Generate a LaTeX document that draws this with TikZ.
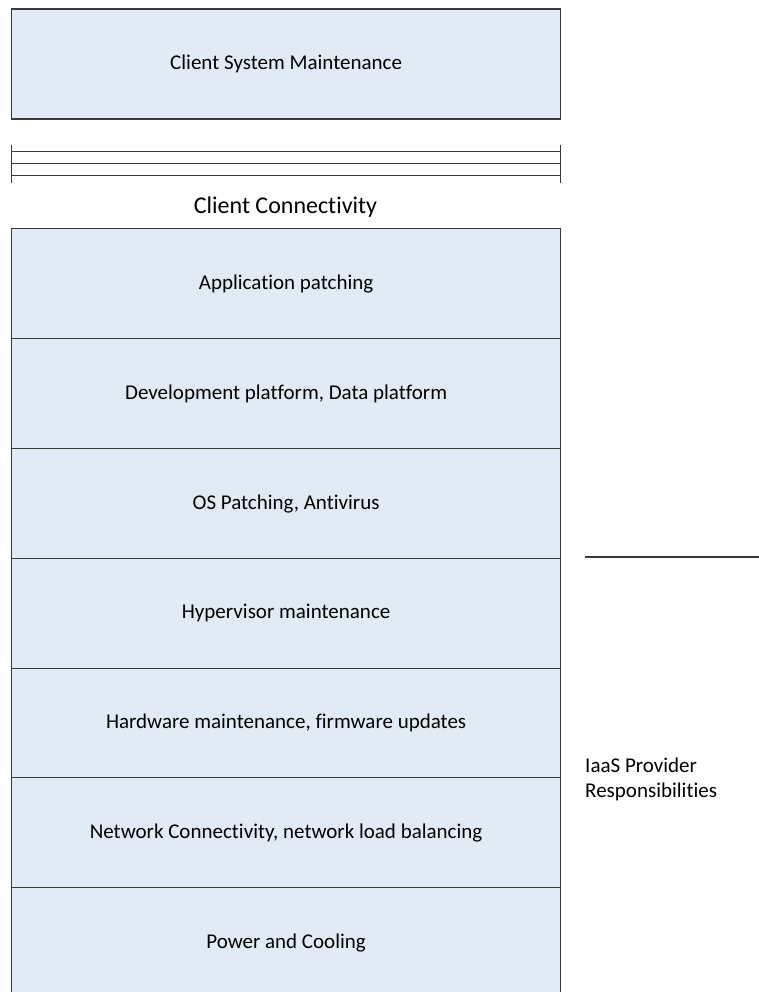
\documentclass[tikz,border=0pt]{standalone}
\usepackage{fontspec}
\setmainfont[Ligatures=NoCommon]{Carlito}
\definecolor{boxfill}{HTML}{E1EBF5}
\definecolor{edge}{HTML}{3A3A3A}
\begin{document}
\begin{tikzpicture}[x=1pt,y=-1pt,
  layer/.style={draw=edge,line width=1.2pt,fill=boxfill,minimum width=549pt,minimum height=110pt,inner sep=0pt,anchor=north west,font=\fontsize{21}{25}\selectfont},
  rail/.style={draw=edge,line width=1pt},
  lbl/.style={font=\fontsize{21}{25}\selectfont,inner sep=0pt}]
\useasboundingbox (0,0) rectangle (759,992);
\node[layer] (csm) at (11,8.5) {Client System Maintenance};
\coordinate (r1l) at (11,152); \coordinate (r1r) at (560,152);
\coordinate (r2l) at (11,164); \coordinate (r2r) at (560,164);
\coordinate (r3l) at (11,176); \coordinate (r3r) at (560,176);
\coordinate (tl1) at (11,145); \coordinate (tl2) at (11,183);
\coordinate (tr1) at (560,145); \coordinate (tr2) at (560,183);
\draw[rail] (r1l) -- (r1r);
\draw[rail] (r2l) -- (r2r);
\draw[rail] (r3l) -- (r3r);
\draw[rail] (tl1) -- (tl2);
\draw[rail] (tr1) -- (tr2);
\node[font=\fontsize{24}{28}\selectfont,inner sep=0pt] (cc) at (285.5,207) {Client Connectivity};
\node[layer] (l1) at (11,228) {Application patching};
\node[layer] (l2) at (11,338) {Development platform, Data platform};
\node[layer] (l3) at (11,448) {OS Patching, Antivirus};
\node[layer] (l4) at (11,557.5) {Hypervisor maintenance};
\node[layer] (l5) at (11,667.5) {Hardware maintenance, firmware updates};
\node[layer] (l6) at (11,777) {Network Connectivity, network load balancing};
\node[layer] (l7) at (11,887) {Power and Cooling};
\coordinate (sepL) at (585,557); \coordinate (sepR) at (760,557);
\draw[rail,line width=1.5pt] (sepL) -- (sepR);
\node[lbl,anchor=west,align=left] (iaas) at (585,779) {IaaS Provider\\Responsibilities};
\end{tikzpicture}
\end{document}
